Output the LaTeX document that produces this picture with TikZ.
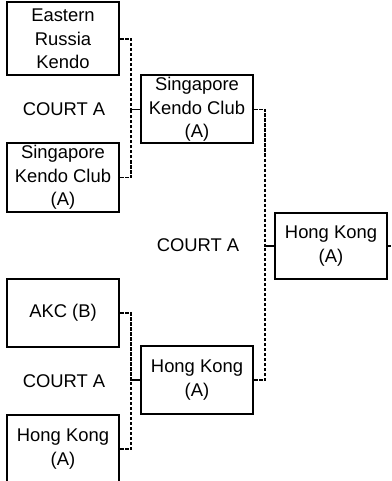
\documentclass[tikz,border=0pt]{standalone}
\usepackage{fontspec}
\setmainfont{Liberation Sans}
\usetikzlibrary{arrows}
\tikzset{
	team/.style={draw, line width=2pt, minimum width=112pt, minimum height=68pt, align=center, inner sep=1pt, font=\fontsize{18.4}{23.3}\selectfont},
	court/.style={font=\fontsize{18.4}{23.3}\selectfont},
	bracket/.style={dash pattern=on 3.5pt off 1.5pt, line width=1.7pt, to path={-- ++(11,0) |- (\tikztotarget)}}
}

\begin{document}
\begin{tikzpicture}[x=1pt, y=-1pt]
			\useasboundingbox (0,0) rectangle (391,481);
			\node[team, minimum height=73pt] (erk) at (63,39) {Eastern\\Russia\\Kendo};
			\node[team] (skc-1) at (63,177.5) {Singapore\\Kendo Club\\(A)};
			\node[team] (akc) at (63,313) {AKC (B)};
			\node[team] (hk-1) at (63,449) {Hong Kong\\(A)};
			\node[team] (skc-2) at (197,109.5) {Singapore\\Kendo Club\\(A)};
			\node[team] (hk-2) at (197,380) {Hong Kong\\(A)};
			\node[team, minimum height=66pt] (hk-3) at (331,246) {Hong Kong\\(A)};
			\node[court] (ct-1) at (64,109) {COURT A};
			\node[court] (ct-2) at (64,381) {COURT A};
			\node[court] (ct-3) at (198,245) {COURT A};
			\coordinate (next) at (391,246);
			\path[bracket]
			(erk.east) edge (skc-2.west)
			(skc-1.east) edge (skc-2.west)
			(akc.east) edge (hk-2.west)
			(hk-1.east) edge (hk-2.west)
			(skc-2.east) edge (hk-3.west)
			(hk-2.east) edge (hk-3.west);
			\draw[line width=1.2pt] (hk-3.east) -- (next);
		\end{tikzpicture}
\end{document}
